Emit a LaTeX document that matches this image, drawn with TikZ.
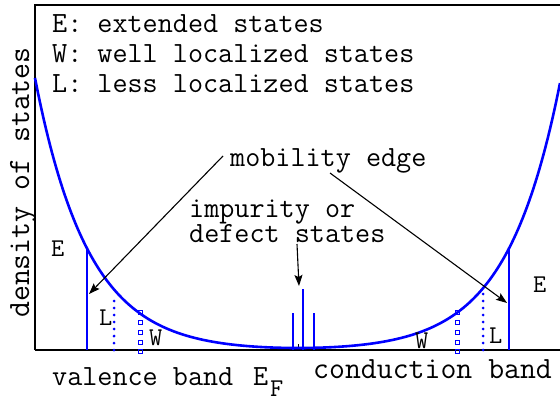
\documentclass[tikz,border=0pt]{standalone}
\usetikzlibrary{arrows.meta}
\begin{document}
\begin{tikzpicture}[x=1pt,y=-1pt,
  txt/.style={inner sep=0pt,anchor=base west,font=\ttfamily\fontsize{29.3}{34}\selectfont},
  bigtxt/.style={inner sep=0pt,anchor=base west,font=\ttfamily\fontsize{30.9}{36}\selectfont},
  lab/.style={inner sep=0pt,anchor=base west,font=\ttfamily\fontsize{25.6}{30}\selectfont},
  curve/.style={blue,line width=2.6pt},
  axisline/.style={black,line width=1.5pt},
  ptr/.style={-{Stealth[length=11pt,width=8pt,inset=2pt]},line width=1.1pt},
  dotline/.style={blue,line width=3pt,dash pattern=on 0pt off 7pt,line cap=round},
  sq/.style={draw=blue,line width=0.8pt,inner sep=0pt,minimum size=4pt}]
\useasboundingbox (0,0) rectangle (560,401);
% frame and axis
\coordinate (o) at (35,350);
\coordinate (tl) at (35,5);
\coordinate (tr) at (560,5);
\coordinate (br) at (560,350);
\draw[axisline] (o) -- (tl) -- (tr);
\draw[axisline] (o) -- (br);
% Fermi tick
\coordinate (ef0) at (298,350);
\coordinate (ef1) at (298,344);
\draw[black,line width=1pt] (ef0) -- (ef1);
% density of states curve
\draw[curve] plot[domain=35:560,samples=220,smooth] (\x,{350-(4*cosh(0.0187*(\x-298))-2)});
% mobility edges (E)
\coordinate (eLb) at (87,350);  \coordinate (eLt) at (87,247);
\coordinate (eRb) at (509,350); \coordinate (eRt) at (509,247);
\draw[curve] (eLb) -- (eLt);
\draw[curve] (eRb) -- (eRt);
% L dotted lines
\coordinate (lLb) at (114,350); \coordinate (lLt) at (114,294);
\coordinate (lRb) at (483,350); \coordinate (lRt) at (483,290);
\draw[dotline] (lLb) -- (lLt);
\draw[dotline] (lRb) -- (lRt);
% W squares
\foreach \yy in {312,322,332,342,351}{
  \node[sq] (wl\yy) at (140,\yy) {};
  \node[sq] (wr\yy) at (457,\yy) {};
}
% impurity states
\coordinate (i1b) at (293,350); \coordinate (i1t) at (293,313);
\coordinate (i2b) at (303,350); \coordinate (i2t) at (303,289);
\coordinate (i3b) at (314,350); \coordinate (i3t) at (314,313);
\draw[blue,line width=1.6pt] (i1b) -- (i1t);
\draw[blue,line width=1.6pt] (i2b) -- (i2t);
\draw[blue,line width=1.6pt] (i3b) -- (i3t);
% texts
\node[txt] (tE) at (52,33) {E: extended states};
\node[txt] (tW) at (52,63) {W: well localized states};
\node[txt] (tL) at (52,93) {L: less localized states};
\node[txt] (mob) at (230,167) {mobility edge};
\node[inner sep=0pt,anchor=south west,align=left,
      font=\ttfamily\fontsize{29.3}{25}\selectfont] (imp) at (189,243) {impurity or\\defect states};
\node[txt] (vb) at (52,385) {valence band};
\node[txt] (ef) at (253,385) {E};
\node[lab] (efs) at (270,396) {F};
\node[bigtxt] (cb) at (313,378) {conduction band};
\node[bigtxt,rotate=90] (dos) at (29,318) {density of states};
% region labels
\node[lab] (lE1) at (51,256) {E};
\node[lab] (lL1) at (99,325) {L};
\node[lab] (lW1) at (149,345) {W};
\node[lab] (lE2) at (533,292) {E};
\node[lab] (lL2) at (489,343) {L};
\node[lab] (lW2) at (415,348) {W};
% arrows
\coordinate (m1s) at (223,156); \coordinate (m1e) at (89,294);
\coordinate (m2s) at (330,173); \coordinate (m2e) at (507,303);
\coordinate (ims) at (297,244); \coordinate (ime) at (299,286);
\draw[ptr] (m1s) -- (m1e);
\draw[ptr] (m2s) -- (m2e);
\draw[ptr] (ims) -- (ime);
\end{tikzpicture}
\end{document}
